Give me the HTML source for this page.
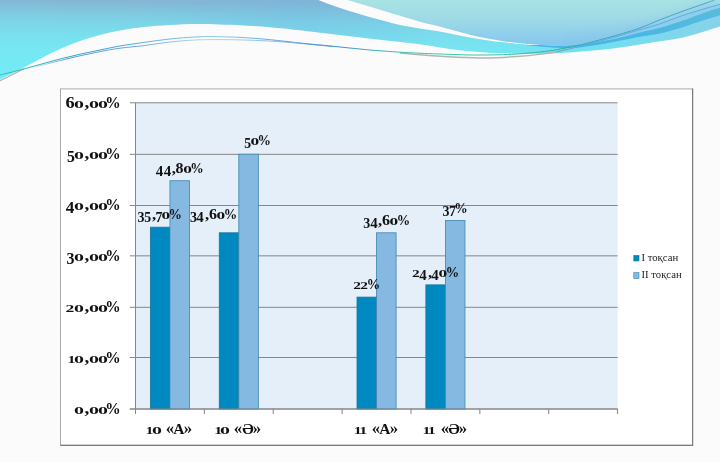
<!DOCTYPE html>
<html lang="kk"><head><meta charset="utf-8"><title>Chart</title>
<style>
html,body{margin:0;padding:0;background:#fdfdfd;}
body{width:720px;height:462px;overflow:hidden;position:relative;font-family:"Liberation Serif",serif;}
svg{position:absolute;left:0;top:0;display:block}
.lb{position:absolute;white-space:pre;font-weight:bold;color:#111;line-height:normal;}
.lb i{display:inline-block;font-style:normal;}
.ax i{transform-origin:50% 14px;}
.dl i{transform-origin:50% 12px;}
.ax{font-size:16px;}
.dl{font-size:14px;}
.lg{position:absolute;white-space:pre;font-size:10.7px;color:#222;line-height:normal;}
.g0{margin:0 0.035em;transform:scale(1.24,0.685);}
.g1{margin:0 -0.083em;transform:scale(1.0,0.685);}
.g2{margin:0;transform:scale(1.1,0.685);}
.g3{margin:0 -0.02em;transform:translateY(0.205em) scale(1.0,1.02);}
.g4{margin:0 0.005em;transform:translateY(0.205em) scale(1.07,1);}
.g5{margin:0 -0.02em;transform:translateY(0.205em) scale(0.985,1.02);}
.g6{margin:0 0.028em;transform:scale(1.145,1);}
.g7{margin:0 -0.015em;transform:translateY(0.205em) scale(1,1);}
.g8{margin:0 0.028em;transform:scale(1.14,1);}
.g9{margin:0 0.028em;transform:translateY(0.205em) scale(1.14,1);}
.gc{margin:0 0.02em 0 0.085em;transform:translateY(0.01em) scale(1.2,1.05);}
.gp{margin:0 -0.11em;transform:translateY(0.03em) scale(0.96,1.07);}
.gs{margin:0 0.025em;}
.gS{margin:0 0.075em;}
.gq{margin:0 -0.02em;transform:scale(1.05,1);}
.gA{margin:0 0.005em 0 -0.031em;transform:scale(0.97,0.94);}
</style></head><body>
<svg width="720" height="462" viewBox="0 0 720 462">
<defs>
<pattern id="tex" width="3" height="3" patternUnits="userSpaceOnUse">
<rect width="3" height="3" fill="#fdfdfd"/>
<rect x="0" y="0" width="1.5" height="1.5" fill="#f9f9f9"/>
<rect x="1.5" y="1.5" width="1.5" height="1.5" fill="#f9f9f9"/>
</pattern>
<linearGradient id="g1" gradientUnits="userSpaceOnUse" x1="0" y1="0" x2="-0.8" y2="80">
<stop offset="0" stop-color="#84b7d3"/>
<stop offset="0.1" stop-color="#81c3dc"/>
<stop offset="0.2" stop-color="#7ecfe3"/>
<stop offset="0.3" stop-color="#7cd7e8"/>
<stop offset="0.44" stop-color="#79e0ee"/>
<stop offset="0.62" stop-color="#76e7f3"/>
<stop offset="1" stop-color="#70ecf7"/>
</linearGradient>
<linearGradient id="g1o" gradientUnits="userSpaceOnUse" x1="140" y1="0" x2="440" y2="0">
<stop offset="0" stop-color="#6cb0e8" stop-opacity="0"/>
<stop offset="0.5" stop-color="#6cb0e8" stop-opacity="0.22"/>
<stop offset="0.8" stop-color="#6cb0e8" stop-opacity="0.12"/>
<stop offset="1" stop-color="#6cb0e8" stop-opacity="0"/>
</linearGradient>
<linearGradient id="g1b" gradientUnits="userSpaceOnUse" x1="500" y1="0" x2="720" y2="0">
<stop offset="0" stop-color="#74e4f2"/>
<stop offset="0.45" stop-color="#72def0"/>
<stop offset="1" stop-color="#86d3ea"/>
</linearGradient>
<linearGradient id="gmb" gradientUnits="userSpaceOnUse" x1="520" y1="0" x2="720" y2="0">
<stop offset="0" stop-color="#46b4e8"/>
<stop offset="0.6" stop-color="#4ab6e4"/>
<stop offset="1" stop-color="#59bbdd"/>
</linearGradient>
<linearGradient id="g2" gradientUnits="userSpaceOnUse" x1="0" y1="0" x2="0" y2="46">
<stop offset="0" stop-color="#a8e2e4"/>
<stop offset="0.4" stop-color="#9fdbe6"/>
<stop offset="1" stop-color="#84c6ee"/>
</linearGradient>
<linearGradient id="lnA" gradientUnits="userSpaceOnUse" x1="0" y1="0" x2="720" y2="0">
<stop offset="0" stop-color="#2ec4a8"/>
<stop offset="0.08" stop-color="#2fb0b8"/>
<stop offset="0.15" stop-color="#3aa6c8"/>
<stop offset="0.21" stop-color="#62b4de"/>
<stop offset="0.3" stop-color="#8ccaec"/>
<stop offset="0.4" stop-color="#5a9ede"/>
<stop offset="0.47" stop-color="#3f92d4"/>
<stop offset="0.54" stop-color="#35b8b0"/>
<stop offset="0.62" stop-color="#36cfa4"/>
<stop offset="0.78" stop-color="#2cb49c"/>
<stop offset="0.9" stop-color="#48a4bc"/>
<stop offset="1" stop-color="#4ea8c2"/>
</linearGradient>
<linearGradient id="lnB" gradientUnits="userSpaceOnUse" x1="0" y1="0" x2="340" y2="0">
<stop offset="0.1" stop-color="#4a90dc" stop-opacity="0.2"/>
<stop offset="0.2" stop-color="#4a8cdc"/>
<stop offset="0.4" stop-color="#5a9ce0"/>
<stop offset="0.6" stop-color="#a8d6f0"/>
<stop offset="0.85" stop-color="#7ab0e4"/>
<stop offset="1" stop-color="#4a88d8"/>
</linearGradient>
<filter id="bl" x="-10%" y="-50%" width="120%" height="200%"><feGaussianBlur stdDeviation="4"/></filter>
</defs>
<rect width="720" height="462" fill="url(#tex)"/>

<path fill="url(#g1)" d="M0,0 L318.3,0.0 C320.8,1.0 328.0,3.9 333.3,5.8 C338.6,7.7 344.4,9.6 350.0,11.3 C355.6,13.1 361.1,14.7 366.7,16.3 C372.2,17.9 377.8,19.4 383.3,20.8 C388.9,22.2 393.9,23.7 400.0,25.0 C406.1,26.3 413.9,27.4 420.0,28.4 C426.1,29.4 431.1,30.0 436.7,31.0 C442.2,32.0 447.8,33.1 453.3,34.2 C458.9,35.3 464.4,36.5 470.0,37.5 C475.6,38.5 481.1,39.5 486.7,40.3 C492.2,41.1 497.8,41.9 503.3,42.5 C508.9,43.1 515.5,43.8 520.0,44.2 C524.5,44.6 528.3,44.9 530.0,45.0  L540,45 L540,53.6 L540.0,53.6 C536.7,53.6 526.1,53.6 520.0,53.5 C513.9,53.4 508.9,53.3 503.3,53.1 C497.8,52.9 492.2,52.7 486.7,52.4 C481.1,52.1 475.6,51.7 470.0,51.2 C464.4,50.7 458.9,50.2 453.3,49.5 C447.8,48.8 442.2,47.9 436.7,47.0 C431.1,46.1 426.1,45.0 420.0,44.2 C413.9,43.4 408.9,43.0 400.0,42.0 C391.1,41.0 377.8,39.6 366.7,38.3 C355.6,37.0 344.4,35.5 333.3,34.2 C322.2,32.9 310.6,31.5 300.0,30.3 C289.4,29.1 280.0,28.1 270.0,27.3 C260.0,26.5 251.7,25.9 240.0,25.3 C228.3,24.8 211.7,24.1 200.0,24.0 C188.3,23.9 179.3,24.5 170.0,25.0 C160.7,25.5 152.3,26.1 144.0,27.0 C135.7,27.9 127.3,29.1 120.0,30.4 C112.7,31.7 106.7,33.2 100.0,35.0 C93.3,36.8 86.7,38.7 80.0,41.0 C73.3,43.3 66.7,46.0 60.0,49.0 C53.3,52.0 46.7,55.6 40.0,59.0 C33.3,62.4 26.7,66.1 20.0,69.5 C13.3,72.9 3.3,77.8 0.0,79.5  Z"/>
<path fill="url(#g1o)" d="M0,0 L318.3,0.0 C320.8,1.0 328.0,3.9 333.3,5.8 C338.6,7.7 344.4,9.6 350.0,11.3 C355.6,13.1 361.1,14.7 366.7,16.3 C372.2,17.9 377.8,19.4 383.3,20.8 C388.9,22.2 393.9,23.7 400.0,25.0 C406.1,26.3 413.9,27.4 420.0,28.4 C426.1,29.4 431.1,30.0 436.7,31.0 C442.2,32.0 447.8,33.1 453.3,34.2 C458.9,35.3 464.4,36.5 470.0,37.5 C475.6,38.5 481.1,39.5 486.7,40.3 C492.2,41.1 497.8,41.9 503.3,42.5 C508.9,43.1 515.5,43.8 520.0,44.2 C524.5,44.6 528.3,44.9 530.0,45.0  L540,45 L540,53.6 L540.0,53.6 C536.7,53.6 526.1,53.6 520.0,53.5 C513.9,53.4 508.9,53.3 503.3,53.1 C497.8,52.9 492.2,52.7 486.7,52.4 C481.1,52.1 475.6,51.7 470.0,51.2 C464.4,50.7 458.9,50.2 453.3,49.5 C447.8,48.8 442.2,47.9 436.7,47.0 C431.1,46.1 426.1,45.0 420.0,44.2 C413.9,43.4 408.9,43.0 400.0,42.0 C391.1,41.0 377.8,39.6 366.7,38.3 C355.6,37.0 344.4,35.5 333.3,34.2 C322.2,32.9 310.6,31.5 300.0,30.3 C289.4,29.1 280.0,28.1 270.0,27.3 C260.0,26.5 251.7,25.9 240.0,25.3 C228.3,24.8 211.7,24.1 200.0,24.0 C188.3,23.9 179.3,24.5 170.0,25.0 C160.7,25.5 152.3,26.1 144.0,27.0 C135.7,27.9 127.3,29.1 120.0,30.4 C112.7,31.7 106.7,33.2 100.0,35.0 C93.3,36.8 86.7,38.7 80.0,41.0 C73.3,43.3 66.7,46.0 60.0,49.0 C53.3,52.0 46.7,55.6 40.0,59.0 C33.3,62.4 26.7,66.1 20.0,69.5 C13.3,72.9 3.3,77.8 0.0,79.5  Z"/>
<path fill="url(#g1b)" d="M500.0,42.0 C503.3,42.4 515.0,43.7 520.0,44.2 C525.0,44.7 526.7,44.9 530.0,45.0 C533.3,45.1 535.5,44.9 540.0,45.0 C544.5,45.1 551.2,45.8 556.7,45.8 C562.2,45.8 567.8,45.7 573.3,45.3 C578.8,44.9 584.4,44.1 590.0,43.3 C595.6,42.5 601.2,41.4 606.7,40.3 C612.2,39.2 617.8,38.0 623.3,36.7 C628.8,35.4 633.9,34.0 640.0,32.5 C646.1,31.0 653.0,29.8 660.0,27.8 C667.0,25.8 674.3,23.3 682.0,20.7 C689.7,18.1 699.7,14.1 706.0,11.9 C712.3,9.7 717.7,8.2 720.0,7.4  L720.0,26.6 C717.7,27.3 712.3,29.1 706.0,31.0 C699.7,32.9 689.7,36.0 682.0,37.7 C674.3,39.4 667.0,40.1 660.0,41.2 C653.0,42.3 646.1,43.5 640.0,44.5 C633.9,45.5 628.8,46.2 623.3,47.0 C617.8,47.8 612.2,48.6 606.7,49.2 C601.2,49.8 595.6,50.3 590.0,50.8 C584.4,51.3 578.8,51.8 573.3,52.2 C567.8,52.6 562.2,53.1 556.7,53.3 C551.2,53.5 546.1,53.6 540.0,53.6 C533.9,53.6 526.1,53.6 520.0,53.5 C513.9,53.4 508.9,53.3 503.3,53.1 C497.8,52.9 489.5,52.5 486.7,52.4  Z"/>
<path fill="url(#g2)" d="M347.5,0.0 C350.7,1.0 360.7,4.0 366.7,5.8 C372.7,7.6 377.8,9.1 383.3,10.8 C388.9,12.5 393.9,14.0 400.0,15.8 C406.1,17.6 413.9,20.0 420.0,21.7 C426.1,23.4 431.1,24.4 436.7,25.8 C442.2,27.2 447.8,28.8 453.3,30.3 C458.9,31.8 464.4,33.4 470.0,34.7 C475.6,36.0 481.1,37.2 486.7,38.3 C492.2,39.4 497.8,40.4 503.3,41.2 C508.9,42.0 513.9,42.7 520.0,43.3 C526.1,43.9 536.7,44.7 540.0,45.0  L556.7,45.8 C559.5,45.7 567.8,45.7 573.3,45.3 C578.8,44.9 584.4,44.1 590.0,43.3 C595.6,42.5 601.2,41.4 606.7,40.3 C612.2,39.2 617.8,38.0 623.3,36.7 C628.8,35.4 633.9,34.0 640.0,32.5 C646.1,31.0 653.0,29.8 660.0,27.8 C667.0,25.8 674.3,23.3 682.0,20.7 C689.7,18.1 699.7,14.1 706.0,11.9 C712.3,9.7 717.7,8.2 720.0,7.4  L720,0 Z"/>
<clipPath id="c2"><path d="M347.5,0.0 C350.7,1.0 360.7,4.0 366.7,5.8 C372.7,7.6 377.8,9.1 383.3,10.8 C388.9,12.5 393.9,14.0 400.0,15.8 C406.1,17.6 413.9,20.0 420.0,21.7 C426.1,23.4 431.1,24.4 436.7,25.8 C442.2,27.2 447.8,28.8 453.3,30.3 C458.9,31.8 464.4,33.4 470.0,34.7 C475.6,36.0 481.1,37.2 486.7,38.3 C492.2,39.4 497.8,40.4 503.3,41.2 C508.9,42.0 513.9,42.7 520.0,43.3 C526.1,43.9 536.7,44.7 540.0,45.0  L556.7,45.8 C559.5,45.7 567.8,45.7 573.3,45.3 C578.8,44.9 584.4,44.1 590.0,43.3 C595.6,42.5 601.2,41.4 606.7,40.3 C612.2,39.2 617.8,38.0 623.3,36.7 C628.8,35.4 633.9,34.0 640.0,32.5 C646.1,31.0 653.0,29.8 660.0,27.8 C667.0,25.8 674.3,23.3 682.0,20.7 C689.7,18.1 699.7,14.1 706.0,11.9 C712.3,9.7 717.7,8.2 720.0,7.4  L720,0 Z"/></clipPath>
<g clip-path="url(#c2)"><path d="M573.3,45.3 C576.1,45.0 584.4,44.1 590.0,43.3 C595.6,42.5 601.2,41.4 606.7,40.3 C612.2,39.2 617.8,38.0 623.3,36.7 C628.8,35.4 633.9,34.0 640.0,32.5 C646.1,31.0 653.0,29.8 660.0,27.8 C667.0,25.8 674.3,23.3 682.0,20.7 C689.7,18.1 699.7,14.1 706.0,11.9 C712.3,9.7 717.7,8.2 720.0,7.4 " fill="none" stroke="#86c6ee" stroke-width="16" opacity="0.6" filter="url(#bl)"/></g>
<path fill="#8ccdec" opacity="0.75" d="M540.0,45.0 C542.8,45.1 551.2,45.5 556.7,45.4 C562.2,45.3 567.8,45.2 573.3,44.6 C578.8,44.0 584.4,43.0 590.0,42.0 C595.6,41.0 601.2,40.0 606.7,38.8 C612.2,37.6 617.8,36.1 623.3,34.6 C628.8,33.1 633.9,31.5 640.0,29.7 C646.1,27.9 653.0,26.1 660.0,23.8 C667.0,21.5 674.3,18.5 682.0,15.9 C689.7,13.3 699.7,10.2 706.0,8.3 C712.3,6.4 717.7,5.0 720.0,4.3  L720.0,7.4 C717.7,8.2 712.3,9.7 706.0,11.9 C699.7,14.1 689.7,18.1 682.0,20.7 C674.3,23.3 667.0,25.8 660.0,27.8 C653.0,29.8 646.1,31.0 640.0,32.5 C633.9,34.0 628.8,35.4 623.3,36.7 C617.8,38.0 612.2,39.2 606.7,40.3 C601.2,41.4 595.6,42.5 590.0,43.3 C584.4,44.1 578.8,44.9 573.3,45.3 C567.8,45.7 562.2,45.8 556.7,45.8 C551.2,45.8 542.8,45.1 540.0,45.0  Z"/>
<path fill="url(#gmb)" d="M522.0,44.6 C523.3,44.7 527.0,44.9 530.0,45.0 C533.0,45.1 535.5,44.9 540.0,45.0 C544.5,45.1 551.2,45.8 556.7,45.8 C562.2,45.8 567.8,45.7 573.3,45.3 C578.8,44.9 584.4,44.1 590.0,43.3 C595.6,42.5 601.2,41.4 606.7,40.3 C612.2,39.2 617.8,38.0 623.3,36.7 C628.8,35.4 633.9,34.0 640.0,32.5 C646.1,31.0 653.0,29.8 660.0,27.8 C667.0,25.8 674.3,23.3 682.0,20.7 C689.7,18.1 699.7,14.1 706.0,11.9 C712.3,9.7 717.7,8.2 720.0,7.4  L720.0,15.2 C717.7,15.9 712.3,17.6 706.0,19.6 C699.7,21.6 689.7,25.1 682.0,27.4 C674.3,29.7 667.0,31.9 660.0,33.5 C653.0,35.0 646.1,35.6 640.0,36.7 C633.9,37.8 628.8,38.9 623.3,40.0 C617.8,41.1 612.2,42.3 606.7,43.3 C601.2,44.3 595.6,45.1 590.0,45.9 C584.4,46.7 578.8,47.7 573.3,48.0 C567.8,48.3 562.2,48.0 556.7,47.8 C551.2,47.6 545.8,47.1 540.0,46.6 C534.2,46.1 525.0,44.9 522.0,44.6  Z"/>
<path fill="none" stroke="#b0b0b0" stroke-width="1.3" d="M0,80.6 C8,77 14,73.8 24,68.5"/>
<path fill="none" stroke="#b4b4b4" stroke-width="1.4" d="M400.0,53.0 C403.3,53.3 411.1,54.0 420.0,54.7 C428.9,55.4 442.2,56.5 453.3,57.0 C464.4,57.5 475.6,58.1 486.7,58.0 C497.8,57.9 511.1,56.9 520.0,56.3 C528.9,55.7 533.9,55.0 540.0,54.2 C546.1,53.4 551.2,52.7 556.7,51.7 C562.2,50.7 570.5,48.6 573.3,48.0 "/>
<path fill="none" stroke="#5aa8e2" stroke-width="0.9" d="M556.7,51.7 C559.5,51.1 567.8,49.4 573.3,48.0 C578.8,46.6 584.4,45.1 590.0,43.6 C595.6,42.1 601.2,40.7 606.7,39.2 C612.2,37.7 617.8,36.3 623.3,34.7 C628.8,33.1 633.9,31.5 640.0,29.7 C646.1,27.9 653.0,26.1 660.0,23.8 C667.0,21.5 674.3,18.3 682.0,15.7 C689.7,13.1 699.7,10.2 706.0,8.3 C712.3,6.4 717.7,5.0 720.0,4.3 "/>
<path fill="none" stroke="url(#lnB)" stroke-width="0.9" d="M36.0,66.8 C40.0,65.8 52.7,62.4 60.0,60.6 C67.3,58.8 73.3,57.3 80.0,55.8 C86.7,54.3 93.3,52.9 100.0,51.6 C106.7,50.3 112.7,49.2 120.0,48.2 C127.3,47.2 135.7,46.6 144.0,45.6 C152.3,44.6 161.5,42.9 170.0,42.0 C178.5,41.1 187.7,40.4 195.0,40.0 C202.3,39.6 206.5,39.6 214.0,39.6 C221.5,39.6 231.5,39.7 240.0,39.9 C248.5,40.1 257.0,40.4 265.0,40.8 C273.0,41.2 282.2,41.9 288.0,42.3 C293.8,42.7 292.4,42.7 300.0,43.4 C307.6,44.1 327.8,46.0 333.3,46.5 "/>
<path fill="none" stroke="url(#lnA)" stroke-width="1" d="M0.0,75.0 C3.3,74.2 13.3,71.8 20.0,70.0 C26.7,68.2 33.3,66.3 40.0,64.5 C46.7,62.7 53.3,60.7 60.0,59.0 C66.7,57.3 73.3,55.7 80.0,54.2 C86.7,52.7 93.3,51.4 100.0,50.0 C106.7,48.6 112.7,47.3 120.0,46.0 C127.3,44.7 135.7,43.6 144.0,42.4 C152.3,41.2 161.5,39.9 170.0,39.0 C178.5,38.1 187.7,37.4 195.0,37.0 C202.3,36.6 206.5,36.5 214.0,36.6 C221.5,36.7 231.5,37.0 240.0,37.4 C248.5,37.8 257.0,38.5 265.0,39.2 C273.0,39.9 282.2,41.0 288.0,41.6 C293.8,42.2 292.4,42.2 300.0,43.0 C307.6,43.8 322.2,45.2 333.3,46.3 C344.4,47.4 355.6,48.7 366.7,49.7 C377.8,50.7 391.1,51.6 400.0,52.2 C408.9,52.8 413.9,52.9 420.0,53.2 C426.1,53.5 431.1,53.7 436.7,53.9 C442.2,54.1 447.8,54.3 453.3,54.5 C458.9,54.7 464.4,54.9 470.0,55.0 C475.6,55.1 481.1,55.0 486.7,55.0 C492.2,55.0 497.8,54.9 503.3,54.7 C508.9,54.5 513.9,54.2 520.0,53.8 C526.1,53.3 533.9,52.7 540.0,52.0 C546.1,51.3 551.2,50.7 556.7,49.7 C562.2,48.8 567.8,47.5 573.3,46.3 C578.8,45.1 584.4,43.9 590.0,42.5 C595.6,41.1 601.2,39.5 606.7,38.0 C612.2,36.5 617.8,35.0 623.3,33.3 C628.8,31.6 633.9,30.2 640.0,28.0 C646.1,25.8 653.0,22.6 660.0,19.8 C667.0,17.1 674.3,14.3 682.0,11.5 C689.7,8.7 700.6,5.0 706.0,3.1 C711.4,1.2 713.1,0.5 714.5,0.0 "/>
<rect x="60.5" y="88.9" width="632.1" height="356.4" fill="#ffffff" stroke="#a9a9a9" stroke-width="1"/>
<path d="M692.6,88.5 V445.3 H60.5" fill="none" stroke="#7c7c7c" stroke-width="1.2"/>
<rect x="135.5" y="102.75" width="482.1" height="306.2" fill="#e5eff9"/>
<line x1="129.8" x2="617.6" y1="102.80" y2="102.80" stroke="#868686" stroke-width="1"/>
<line x1="129.8" x2="617.6" y1="154.35" y2="154.35" stroke="#868686" stroke-width="1"/>
<line x1="129.8" x2="617.6" y1="205.50" y2="205.50" stroke="#868686" stroke-width="1"/>
<line x1="129.8" x2="617.6" y1="255.85" y2="255.85" stroke="#868686" stroke-width="1"/>
<line x1="129.8" x2="617.6" y1="307.30" y2="307.30" stroke="#868686" stroke-width="1"/>
<line x1="129.8" x2="617.6" y1="357.50" y2="357.50" stroke="#868686" stroke-width="1"/>
<line x1="129.8" x2="617.6" y1="409.00" y2="409.00" stroke="#868686" stroke-width="1"/>
<line x1="135.5" x2="135.5" y1="102.75" y2="414.0" stroke="#868686" stroke-width="1"/>
<line x1="204.37" x2="204.37" y1="409.0" y2="414.0" stroke="#868686" stroke-width="1"/>
<line x1="273.24" x2="273.24" y1="409.0" y2="414.0" stroke="#868686" stroke-width="1"/>
<line x1="342.11" x2="342.11" y1="409.0" y2="414.0" stroke="#868686" stroke-width="1"/>
<line x1="410.99" x2="410.99" y1="409.0" y2="414.0" stroke="#868686" stroke-width="1"/>
<line x1="479.86" x2="479.86" y1="409.0" y2="414.0" stroke="#868686" stroke-width="1"/>
<line x1="548.73" x2="548.73" y1="409.0" y2="414.0" stroke="#868686" stroke-width="1"/>
<line x1="617.60" x2="617.60" y1="409.0" y2="414.0" stroke="#868686" stroke-width="1"/>
<rect x="150.39" y="227.18" width="19.55" height="181.82" fill="#0089c0" stroke="#1a749c" stroke-width="0.8"/>
<rect x="169.94" y="180.73" width="19.55" height="228.27" fill="#86b9e1" stroke="#3d86ae" stroke-width="0.8"/>
<rect x="219.26" y="232.80" width="19.55" height="176.20" fill="#0089c0" stroke="#1a749c" stroke-width="0.8"/>
<rect x="238.81" y="154.19" width="19.55" height="254.81" fill="#86b9e1" stroke="#3d86ae" stroke-width="0.8"/>
<rect x="357.00" y="297.11" width="19.55" height="111.89" fill="#0089c0" stroke="#1a749c" stroke-width="0.8"/>
<rect x="376.55" y="232.80" width="19.55" height="176.20" fill="#86b9e1" stroke="#3d86ae" stroke-width="0.8"/>
<rect x="425.87" y="284.86" width="19.55" height="124.14" fill="#0089c0" stroke="#1a749c" stroke-width="0.8"/>
<rect x="445.42" y="220.55" width="19.55" height="188.45" fill="#86b9e1" stroke="#3d86ae" stroke-width="0.8"/>
<line x1="129.8" x2="617.6" y1="409.0" y2="409.0" stroke="#868686" stroke-width="1"/>
<rect x="633.8" y="255.4" width="5.2" height="5.6" fill="#0089c0" stroke="#1a749c" stroke-width="0.6"/>
<rect x="633.8" y="272.6" width="5.2" height="6" fill="#86b9e1" stroke="#3d86ae" stroke-width="0.6"/>
</svg>
<div class="lb ax" role="text" aria-label="0,00%" style="right:600.3px;top:400.00px"><i class="g0">0</i><i class="gc">,</i><i class="g0">0</i><i class="g0">0</i><i class="gp">%</i></div>
<div class="lb ax" role="text" aria-label="10,00%" style="right:600.3px;top:348.96px"><i class="g1">1</i><i class="g0">0</i><i class="gc">,</i><i class="g0">0</i><i class="g0">0</i><i class="gp">%</i></div>
<div class="lb ax" role="text" aria-label="20,00%" style="right:600.3px;top:297.92px"><i class="g2">2</i><i class="g0">0</i><i class="gc">,</i><i class="g0">0</i><i class="g0">0</i><i class="gp">%</i></div>
<div class="lb ax" role="text" aria-label="30,00%" style="right:600.3px;top:246.88px"><i class="g3">3</i><i class="g0">0</i><i class="gc">,</i><i class="g0">0</i><i class="g0">0</i><i class="gp">%</i></div>
<div class="lb ax" role="text" aria-label="40,00%" style="right:600.3px;top:195.83px"><i class="g4">4</i><i class="g0">0</i><i class="gc">,</i><i class="g0">0</i><i class="g0">0</i><i class="gp">%</i></div>
<div class="lb ax" role="text" aria-label="50,00%" style="right:600.3px;top:144.79px"><i class="g5">5</i><i class="g0">0</i><i class="gc">,</i><i class="g0">0</i><i class="g0">0</i><i class="gp">%</i></div>
<div class="lb ax" role="text" aria-label="60,00%" style="right:600.3px;top:93.75px"><i class="g6">6</i><i class="g0">0</i><i class="gc">,</i><i class="g0">0</i><i class="g0">0</i><i class="gp">%</i></div>
<div class="lb ax" role="text" aria-label="10 «А»" style="left:146.8px;top:420.30px"><i class="g1">1</i><i class="g0">0</i><i class="gs"> </i><i class="gq">«</i><i class="gA">А</i><i class="gq">»</i></div>
<div class="lb ax" role="text" aria-label="10 «Ә»" style="left:215.5px;top:420.30px"><i class="g1">1</i><i class="g0">0</i><i class="gs"> </i><i class="gq">«</i><i class="gA">Ә</i><i class="gq">»</i></div>
<div class="lb ax" role="text" aria-label="11 «А»" style="left:355.1px;top:420.30px"><i class="g1">1</i><i class="g1">1</i><i class="gS"> </i><i class="gq">«</i><i class="gA">А</i><i class="gq">»</i></div>
<div class="lb ax" role="text" aria-label="11 «Ә»" style="left:423.8px;top:420.30px"><i class="g1">1</i><i class="g1">1</i><i class="gS"> </i><i class="gq">«</i><i class="gA">Ә</i><i class="gq">»</i></div>
<div class="lb dl" role="text" aria-label="35,70%" style="left:159.5px;top:207.30px;transform:translateX(-50%)"><i class="g3">3</i><i class="g5">5</i><i class="gc">,</i><i class="g7">7</i><i class="g0">0</i><i class="gp">%</i></div>
<div class="lb dl" role="text" aria-label="44,80%" style="left:179.4px;top:161.00px;transform:translateX(-50%)"><i class="g4">4</i><i class="g4">4</i><i class="gc">,</i><i class="g8">8</i><i class="g0">0</i><i class="gp">%</i></div>
<div class="lb dl" role="text" aria-label="34,60%" style="left:212.9px;top:207.40px;transform:translateX(-50%)"><i class="g3">3</i><i class="g4">4</i><i class="gc">,</i><i class="g6">6</i><i class="g0">0</i><i class="gp">%</i></div>
<div class="lb dl" role="text" aria-label="50%" style="left:257.3px;top:133.20px;transform:translateX(-50%)"><i class="g5">5</i><i class="g0">0</i><i class="gp">%</i></div>
<div class="lb dl" role="text" aria-label="22%" style="left:366.3px;top:276.60px;transform:translateX(-50%)"><i class="g2">2</i><i class="g2">2</i><i class="gp">%</i></div>
<div class="lb dl" role="text" aria-label="34,60%" style="left:386.1px;top:213.00px;transform:translateX(-50%)"><i class="g3">3</i><i class="g4">4</i><i class="gc">,</i><i class="g6">6</i><i class="g0">0</i><i class="gp">%</i></div>
<div class="lb dl" role="text" aria-label="24,40%" style="left:435.3px;top:265.00px;transform:translateX(-50%)"><i class="g2">2</i><i class="g4">4</i><i class="gc">,</i><i class="g4">4</i><i class="g0">0</i><i class="gp">%</i></div>
<div class="lb dl" role="text" aria-label="37%" style="left:454.8px;top:201.00px;transform:translateX(-50%)"><i class="g3">3</i><i class="g7">7</i><i class="gp">%</i></div>
<div class="lg" style="left:641.5px;top:250.8px">I тоқсан</div>
<div class="lg" style="left:641.5px;top:268.0px">II тоқсан</div>
</body></html>
